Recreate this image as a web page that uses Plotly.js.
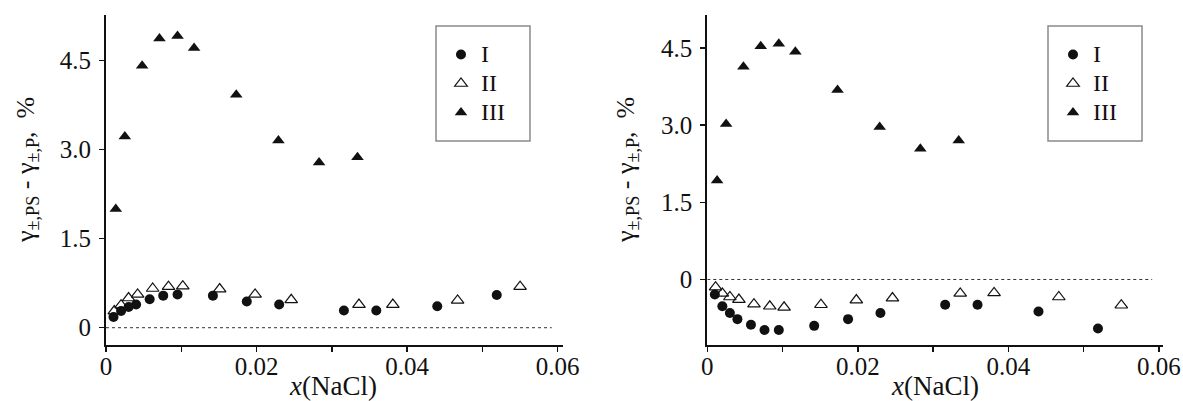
<!DOCTYPE html>
<html>
<head>
<meta charset="utf-8">
<script src="https://cdn.plot.ly/plotly-3.0.1.min.js"></script>
<style>
  html, body { margin: 0; padding: 0; background: #fff; }
  #chart { width: 1183px; height: 401px; }
</style>
</head>
<body>
<div id="chart"></div>
<script>
// Mole fraction of NaCl for each series
const xI   = [0.0010, 0.0020, 0.0030, 0.0040, 0.0058, 0.0076, 0.0095, 0.0142, 0.0187, 0.0230, 0.0316, 0.0359, 0.0440, 0.0519];
const xII  = [0.0011, 0.0020, 0.0030, 0.0042, 0.0062, 0.0083, 0.0102, 0.0151, 0.0198, 0.0246, 0.0336, 0.0381, 0.0467, 0.0550];
const xIII = [0.0013, 0.0025, 0.0048, 0.0071, 0.0095, 0.0117, 0.0173, 0.0229, 0.0283, 0.0334];

// Left panel: deviation of activity coefficients, %
const leftI   = [0.18, 0.28, 0.35, 0.39, 0.48, 0.54, 0.56, 0.54, 0.44, 0.39, 0.29, 0.29, 0.36, 0.55];
const leftII  = [0.28, 0.38, 0.50, 0.56, 0.66, 0.69, 0.70, 0.65, 0.56, 0.47, 0.39, 0.39, 0.46, 0.69];
const leftIII = [2.00, 3.22, 4.41, 4.87, 4.91, 4.71, 3.92, 3.15, 2.78, 2.87];

// Right panel
const rightI   = [-0.29, -0.52, -0.65, -0.77, -0.88, -0.98, -0.98, -0.90, -0.77, -0.65, -0.49, -0.49, -0.62, -0.95];
const rightII  = [-0.15, -0.27, -0.34, -0.39, -0.48, -0.52, -0.54, -0.49, -0.40, -0.36, -0.27, -0.26, -0.34, -0.50];
const rightIII = [1.92, 3.02, 4.13, 4.53, 4.58, 4.42, 3.68, 2.96, 2.54, 2.70];

const seriesNames = ['I', 'II', 'III'];
const xTickVals = [0, 0.02, 0.04, 0.06];
const xTickText = ['0', '0.02', '0.04', '0.06'];
const xMinorVals = [0.01, 0.03, 0.05];
const yTickVals = [0, 1.5, 3, 4.5];
const yTickText = ['0', '1.5', '3.0', '4.5'];
const yTitle = 'γ<sub>±,PS</sub> - γ<sub>±,P</sub>,  %';
const xTitle = '<i>x</i>(NaCl)';

const FONT = 'Liberation Serif, Times New Roman, serif';
const INK = '#111';
const W = 1183;

// pixel helpers for paper positions
const px = v => v / W;
const plotTop = 15, plotBottom = 345, plotH = plotBottom - plotTop;
const py = v => (plotBottom - v) / plotH;

function series(x, y, kind, xa, ya, legendId) {
  const base = {
    type: 'scatter', mode: 'markers', x: x, y: y,
    xaxis: xa, yaxis: ya, legend: legendId,
    cliponaxis: false
  };
  // legend rows use a compact line height, the label itself is set larger
  const label = n => '<span style="font-size:24px">' + n + '</span>';
  if (kind === 0) {
    base.name = label(seriesNames[0]);
    base.marker = { symbol: 'circle', size: 10, color: INK };
  } else if (kind === 1) {
    base.name = label(seriesNames[1]);
    base.marker = { symbol: 'triangle-up-open', size: 11, color: INK, line: { width: 1.2, color: INK } };
  } else {
    base.name = label(seriesNames[2]);
    base.marker = { symbol: 'triangle-up', size: 11, color: INK };
  }
  return base;
}

const data = [
  series(xI, leftI, 0, 'x', 'y', 'legend'),
  series(xII, leftII, 1, 'x', 'y', 'legend'),
  series(xIII, leftIII, 2, 'x', 'y', 'legend'),
  series(xI, rightI, 0, 'x2', 'y2', 'legend2'),
  series(xII, rightII, 1, 'x2', 'y2', 'legend2'),
  series(xIII, rightIII, 2, 'x2', 'y2', 'legend2')
];

function xAxis(domain, range, anchor) {
  return {
    domain: domain, range: range, anchor: anchor,
    showgrid: false, zeroline: false,
    showline: true, linecolor: INK, linewidth: 2,
    ticks: 'outside', ticklen: 5, tickwidth: 1.5, tickcolor: INK,
    tickvals: xTickVals, ticktext: xTickText,
    ticklabelstandoff: -7,
    minor: { tickvals: xMinorVals, ticks: 'outside', ticklen: 5, tickwidth: 1.5, tickcolor: INK, showgrid: false },
    tickfont: { family: FONT, size: 25, color: INK }
  };
}
function yAxis(range, anchor) {
  return {
    range: range, anchor: anchor,
    showgrid: false, zeroline: false,
    showline: true, linecolor: INK, linewidth: 2,
    ticks: 'outside', ticklen: 5, tickwidth: 1.5, tickcolor: INK,
    tickvals: yTickVals, ticktext: yTickText,
    ticklabelstandoff: 3,
    tickfont: { family: FONT, size: 25, color: INK }
  };
}

const legendStyle = (x) => ({
  x: x, y: py(35), xanchor: 'left', yanchor: 'top',
  bgcolor: 'rgba(0,0,0,0)', borderwidth: 0,
  font: { family: FONT, size: 20, color: INK },
  itemclick: false, itemdoubleclick: false
});

const legendFrame = (x0, x1) => ({
  type: 'rect', xref: 'paper', yref: 'paper',
  x0: px(x0), x1: px(x1), y0: py(141), y1: py(26),
  line: { color: '#8a8a8a', width: 1.5 }, fillcolor: 'rgba(0,0,0,0)'
});

const zeroLine = (xa, ya, xEnd) => ({
  type: 'line', xref: xa, yref: ya,
  x0: 0, x1: xEnd, y0: 0, y1: 0,
  line: { color: '#333', width: 1, dash: 'dot' }
});

const ann = (text, x, y, angle, size) => ({
  text: text, xref: 'paper', yref: 'paper', x: x, y: y,
  xanchor: 'center', yanchor: 'middle', showarrow: false, textangle: angle,
  font: { family: FONT, size: size, color: INK }
});

const layout = {
  width: W, height: 401,
  margin: { l: 0, r: 0, t: plotTop, b: 401 - plotBottom },
  paper_bgcolor: '#fff', plot_bgcolor: '#fff',
  showlegend: true,
  xaxis: xAxis([px(106), px(563)], [0, 0.0607], 'y'),
  yaxis: yAxis([-0.291, 5.264], 'x'),
  xaxis2: xAxis([px(707.3), px(1162.7)], [0, 0.0605], 'y2'),
  yaxis2: yAxis([-1.272, 5.136], 'x2'),
  legend: legendStyle(px(441)),
  legend2: legendStyle(px(1053)),
  shapes: [
    zeroLine('x', 'y', 0.0592),
    zeroLine('x2', 'y2', 0.0591),
    legendFrame(436, 530),
    legendFrame(1048, 1142)
  ],
  annotations: [
    ann(yTitle, px(27), py(170), -90, 26),
    ann(yTitle, px(627), py(170), -90, 26),
    ann(xTitle, px(333), py(386), 0, 27),
    ann(xTitle, px(935), py(386), 0, 27)
  ]
};

Plotly.newPlot('chart', data, layout, { staticPlot: true, displayModeBar: false });
</script>
</body>
</html>
